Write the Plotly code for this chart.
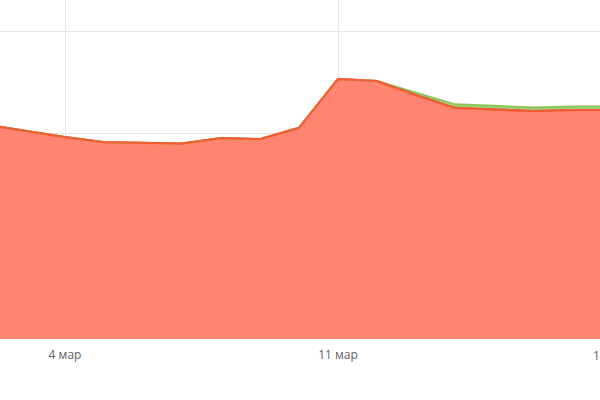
import plotly.graph_objects as go

dates = ["2019-03-02", "2019-03-03", "2019-03-04", "2019-03-05", "2019-03-06",
         "2019-03-07", "2019-03-08", "2019-03-09", "2019-03-10", "2019-03-11",
         "2019-03-12", "2019-03-13", "2019-03-14", "2019-03-15", "2019-03-16",
         "2019-03-17", "2019-03-18"]
red_values = [209, 203, 197, 192, 191, 190.7, 196, 195, 206, 253.7,
              251.7, 238, 225.4, 224, 222.4, 223.4, 223.4]
green_values = [0, 0, 0, 0, 0, 0, 0, 0, 0, 0,
                0, 2, 3.5, 3.5, 3.5, 3.5, 3.5]
tick_dates = ["2019-03-04", "2019-03-11", "2019-03-18"]
tick_labels = ["4 мар", "11 мар", "18 мар"]

RED_LINE = "#f25c32"
RED_FILL = "rgba(255,112,88,0.85)"
GREEN_LINE = "#8cc65a"
FONT = dict(family="Open Sans", size=12, color="#5f5f5f")

fig = go.Figure()
fig.add_trace(go.Scatter(x=dates, y=red_values, stackgroup="s", mode="lines",
                         line=dict(color=RED_LINE, width=2), fillcolor=RED_FILL,
                         hoverinfo="skip"))
fig.add_trace(go.Scatter(x=dates, y=green_values, stackgroup="s", mode="lines",
                         line=dict(color=GREEN_LINE, width=2),
                         fillcolor="rgba(140,198,90,0.8)", hoverinfo="skip"))
fig.add_trace(go.Scatter(x=dates, y=red_values, mode="lines",
                         line=dict(color=RED_LINE, width=2.2), hoverinfo="skip"))

fig.update_layout(
    width=600, height=400,
    margin=dict(l=0, r=0, t=0, b=61),
    paper_bgcolor="white", plot_bgcolor="white",
    showlegend=False,
    font=FONT,
    xaxis=dict(range=["2019-03-02 08:00", "2019-03-17 17:14"],
               tickvals=tick_dates, ticktext=tick_labels,
               showgrid=True, gridcolor="#e6e6e6", gridwidth=1,
               zeroline=False, showline=False, ticks="",
               ticklabelstandoff=7),
    yaxis=dict(range=[0, 330.7], dtick=100, showticklabels=False,
               showgrid=True, gridcolor="#e6e6e6", gridwidth=1,
               zeroline=False, showline=False),
)
fig.add_annotation(x=591 / 600, y=0, xref="paper", yref="paper",
                   text=tick_labels[2], showarrow=False, yshift=-16,
                   xanchor="left", yanchor="middle", font=FONT)
fig.write_html("out.html")
